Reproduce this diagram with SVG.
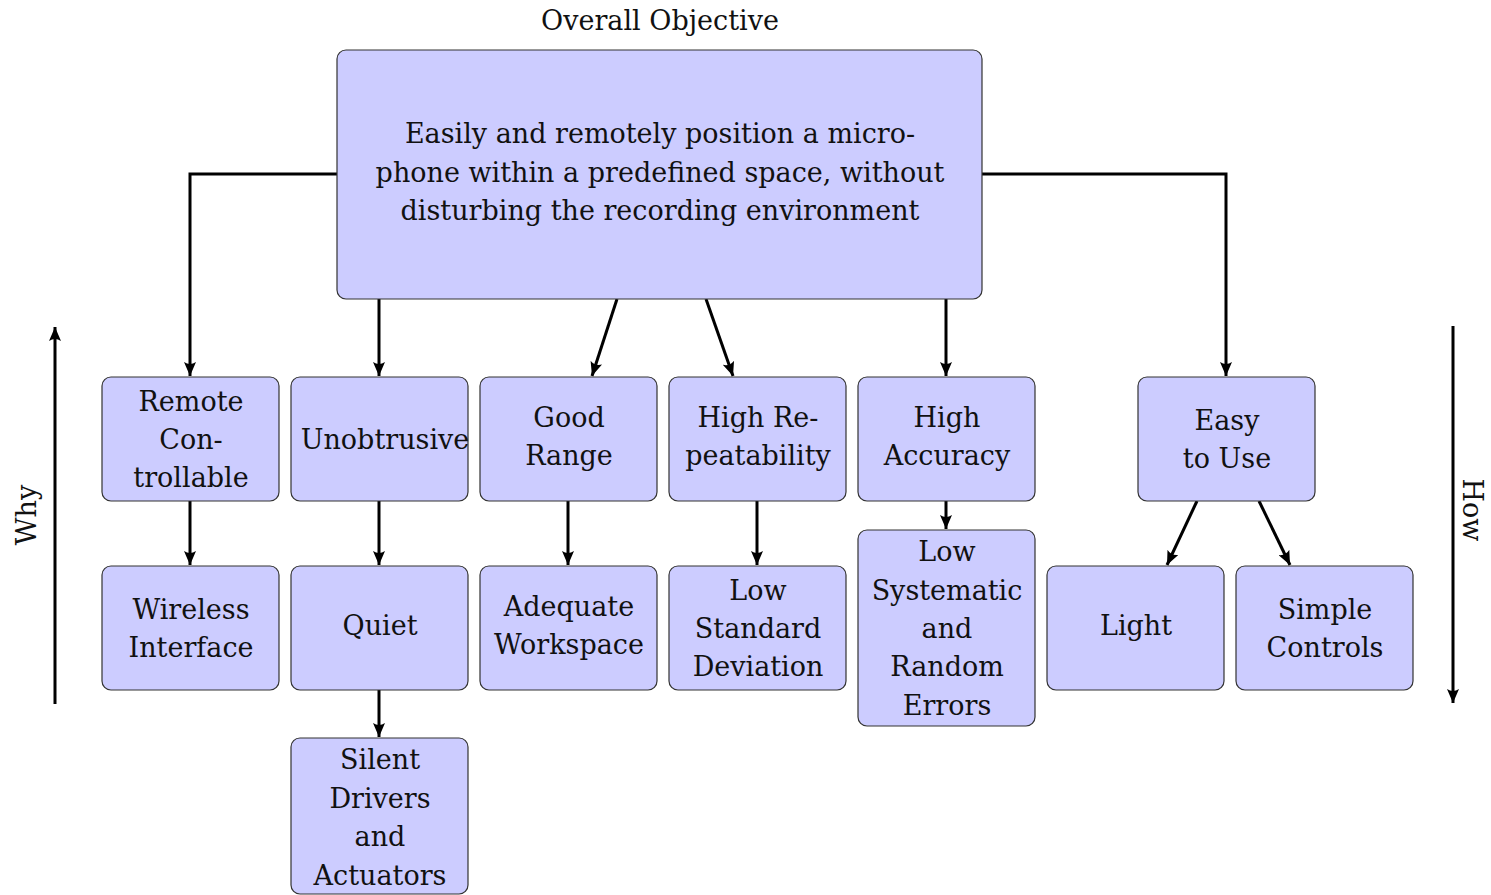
<svg xmlns="http://www.w3.org/2000/svg" width="1491" height="895" viewBox="0 0 1491 895">
  <style>
    .box { fill: #ccccff; stroke: #333333; stroke-width: 1.2; }
    .lbl { font-family: 'DejaVu Serif', 'Liberation Serif', serif; font-size: 27px; fill: #111111; text-anchor: middle; }
    .edge { fill: none; stroke: #000000; stroke-width: 3; marker-end: url(#tip); }
  </style>
  <defs>
    <marker id="tip" markerUnits="userSpaceOnUse" markerWidth="15" markerHeight="12" refX="14" refY="6" orient="auto">
      <path d="M0,0 Q4,6 0,12 L14,6 Z" fill="#000000"/>
    </marker>
  </defs>

  <!-- heading -->
  <text class="lbl" x="660" y="30">Overall Objective</text>

  <!-- side axes -->
  <g id="axis-why">
    <path class="edge" d="M55,704 V327"/>
    <text class="lbl" transform="translate(36,515) rotate(-90)">Why</text>
  </g>
  <g id="axis-how">
    <path class="edge" d="M1453,326 V703"/>
    <text class="lbl" transform="translate(1463,510) rotate(90)">How</text>
  </g>

  <!-- connectors -->
  <g id="connectors">
    <path class="edge" d="M337,174 H190 V376"/>
    <path class="edge" d="M982,174 H1226 V376"/>
    <path class="edge" d="M379,299 V376"/>
    <path class="edge" d="M617,299 L592,376"/>
    <path class="edge" d="M706,299 L733,376"/>
    <path class="edge" d="M946,299 V376"/>
    <path class="edge" d="M190,501 V565"/>
    <path class="edge" d="M379,501 V565"/>
    <path class="edge" d="M568,501 V565"/>
    <path class="edge" d="M757,501 V565"/>
    <path class="edge" d="M946,501 V529"/>
    <path class="edge" d="M1197,501 L1167,565"/>
    <path class="edge" d="M1259,501 L1290,565"/>
    <path class="edge" d="M379,690 V737"/>
  </g>

  <!-- objective -->
  <g id="objective">
    <rect class="box" x="337" y="50" width="645" height="249" rx="9"/>
    <text class="lbl" x="660" y="143">Easily and remotely position a micro-</text>
    <text class="lbl" x="660" y="182">phone within a predefined space, without</text>
    <text class="lbl" x="660" y="220">disturbing the recording environment</text>
  </g>

  <!-- requirements -->
  <g id="remote-controllable">
    <rect class="box" x="102" y="377" width="177" height="124" rx="9"/>
    <text class="lbl" x="191" y="411">Remote</text>
    <text class="lbl" x="191" y="449">Con-</text>
    <text class="lbl" x="191" y="487">trollable</text>
  </g>
  <g id="unobtrusive">
    <rect class="box" x="291" y="377" width="177" height="124" rx="9"/>
    <text class="lbl" x="385" y="449">Unobtrusive</text>
  </g>
  <g id="good-range">
    <rect class="box" x="480" y="377" width="177" height="124" rx="9"/>
    <text class="lbl" x="569" y="427">Good</text>
    <text class="lbl" x="569" y="465">Range</text>
  </g>
  <g id="high-repeatability">
    <rect class="box" x="669" y="377" width="177" height="124" rx="9"/>
    <text class="lbl" x="758" y="427">High Re-</text>
    <text class="lbl" x="758" y="465">peatability</text>
  </g>
  <g id="high-accuracy">
    <rect class="box" x="858" y="377" width="177" height="124" rx="9"/>
    <text class="lbl" x="947" y="427">High</text>
    <text class="lbl" x="947" y="465">Accuracy</text>
  </g>
  <g id="easy-to-use">
    <rect class="box" x="1138" y="377" width="177" height="124" rx="9"/>
    <text class="lbl" x="1227" y="430">Easy</text>
    <text class="lbl" x="1227" y="468">to Use</text>
  </g>

  <!-- means -->
  <g id="wireless-interface">
    <rect class="box" x="102" y="566" width="177" height="124" rx="9"/>
    <text class="lbl" x="191" y="619">Wireless</text>
    <text class="lbl" x="191" y="657">Interface</text>
  </g>
  <g id="quiet">
    <rect class="box" x="291" y="566" width="177" height="124" rx="9"/>
    <text class="lbl" x="380" y="635">Quiet</text>
  </g>
  <g id="adequate-workspace">
    <rect class="box" x="480" y="566" width="177" height="124" rx="9"/>
    <text class="lbl" x="569" y="616">Adequate</text>
    <text class="lbl" x="569" y="654">Workspace</text>
  </g>
  <g id="low-standard-deviation">
    <rect class="box" x="669" y="566" width="177" height="124" rx="9"/>
    <text class="lbl" x="758" y="600">Low</text>
    <text class="lbl" x="758" y="638">Standard</text>
    <text class="lbl" x="758" y="676">Deviation</text>
  </g>
  <g id="low-errors">
    <rect class="box" x="858" y="530" width="177" height="196" rx="9"/>
    <text class="lbl" x="947" y="561">Low</text>
    <text class="lbl" x="947" y="600">Systematic</text>
    <text class="lbl" x="947" y="638">and</text>
    <text class="lbl" x="947" y="676">Random</text>
    <text class="lbl" x="947" y="715">Errors</text>
  </g>
  <g id="light">
    <rect class="box" x="1047" y="566" width="177" height="124" rx="9"/>
    <text class="lbl" x="1136" y="635">Light</text>
  </g>
  <g id="simple-controls">
    <rect class="box" x="1236" y="566" width="177" height="124" rx="9"/>
    <text class="lbl" x="1325" y="619">Simple</text>
    <text class="lbl" x="1325" y="657">Controls</text>
  </g>
  <g id="silent-drivers">
    <rect class="box" x="291" y="738" width="177" height="156" rx="9"/>
    <text class="lbl" x="380" y="769">Silent</text>
    <text class="lbl" x="380" y="808">Drivers</text>
    <text class="lbl" x="380" y="846">and</text>
    <text class="lbl" x="380" y="885">Actuators</text>
  </g>
</svg>
